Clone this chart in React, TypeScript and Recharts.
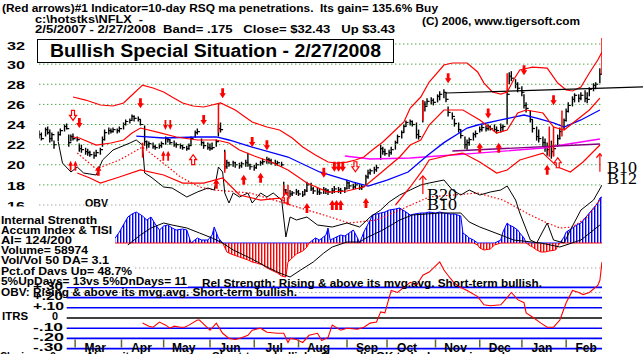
import React from 'react';
import { ComposedChart, XAxis, YAxis, Line, Bar, Area, Scatter, ReferenceLine } from 'recharts';

const W = 643;
const H = 354;
const SANS = '"Liberation Sans", Arial, sans-serif';
const SERIF = '"Liberation Serif", "Times New Roman", serif';

// ---------- data (trading-day index d: 0 = 2/5/2007 ... 267 = 2/27/2008) ----------
const monthNames = ['Mar', 'Apr', 'May', 'Jun', 'Jul', 'Aug', 'Sep', 'Oct', 'Nov', 'Dec', 'Jan', 'Feb'];
const monthStarts = [17, 39, 59, 81, 102, 123, 146, 165, 188, 209, 229, 250];
const priceTicks = [32, 30, 28, 26, 24, 22, 20, 18, 16];
const itrsLevels = [0.3, 0.2, 0.1, -0.1, -0.2, -0.3];
const LAST_DAY = 267;

// [day, high, low, close]
const priceBars: number[][] = [
  [0,23.4,22.6,23.0],[1,23.2,22.4,22.6],[3,23.7,22.8,23.5],[4,23.8,23.0,23.2],[5,23.5,22.2,22.6],
  [6,23.2,22.3,23.0],[7,22.4,21.6,22.0],[9,23.3,22.3,23.0],[10,23.6,22.9,23.4],[12,24.0,23.3,23.8],
  [13,24.1,23.5,23.6],[14,23.0,21.8,22.2],[15,23.0,22.3,22.8],[16,23.1,22.4,22.6],[18,22.8,22.3,22.5],
  [19,22.1,21.3,21.6],[20,22.0,21.2,21.5],[22,21.7,21.0,21.3],[23,21.6,20.9,21.2],[24,21.4,20.8,21.0],
  [26,21.3,20.6,20.9],[27,21.5,20.8,21.2],[29,21.7,21.0,21.5],[30,22.8,21.8,22.5],[31,23.5,22.4,23.2],
  [33,23.7,23.0,23.4],[34,23.6,23.1,23.3],[35,23.7,23.2,23.5],[37,23.6,23.1,23.4],[38,23.8,23.2,23.6],
  [40,24.2,23.5,24.0],[41,24.5,23.9,24.3],[43,24.6,24.1,24.4],[44,25.0,24.4,24.8],[45,24.9,24.3,24.6],
  [47,24.8,24.3,24.5],[48,24.5,23.9,24.0],[50,23.9,21.9,22.3],[51,22.4,21.6,22.0],[52,22.3,21.7,22.1],
  [54,22.2,21.6,21.8],[55,22.0,21.5,21.7],[57,22.1,21.6,21.9],[58,22.3,21.7,22.1],[60,22.8,22.0,22.6],
  [61,22.7,22.2,22.5],[62,22.5,22.0,22.2],[64,22.4,21.8,22.0],[65,22.2,21.7,22.0],[67,22.1,21.6,21.9],
  [68,22.0,21.5,21.7],[70,21.9,21.4,21.6],[71,22.1,21.5,21.9],[72,22.8,21.9,22.6],[74,23.4,22.7,23.2],
  [75,23.6,23.0,23.3],[77,22.6,21.9,22.2],[78,22.3,21.6,21.9],[80,22.2,21.5,21.7],[81,22.1,21.4,21.6],
  [82,22.2,21.5,21.7],[84,22.5,21.8,22.3],[85,24.0,22.8,23.6],[86,24.2,23.2,23.5],[88,21.5,19.5,19.8],
  [89,20.5,19.6,20.2],[90,20.3,19.8,20.0],[92,20.4,19.8,20.2],[93,20.3,19.7,20.0],[95,20.2,19.6,19.9],
  [96,20.3,19.7,20.1],[98,20.5,19.8,20.2],[99,21.2,19.8,20.0],[100,20.1,19.5,19.8],[102,20.0,19.4,19.7],
  [103,20.2,19.6,20.0],[105,20.4,19.9,20.2],[106,20.6,20.0,20.3],[108,20.8,20.1,20.5],[109,20.7,20.1,20.4],
  [110,20.6,20.0,20.2],[112,20.5,19.9,20.1],[113,20.4,19.9,20.2],[115,20.3,19.8,20.0],[116,18.3,17.0,17.5],
  [117,17.6,16.9,17.2],[119,17.5,16.8,17.1],[120,17.4,16.9,17.2],[122,17.6,17.0,17.3],[123,17.5,16.9,17.1],
  [125,17.4,16.8,17.0],[126,17.6,17.0,17.4],[127,18.3,17.3,18.0],[129,18.2,17.4,17.6],[130,17.8,17.1,17.4],
  [132,17.7,17.0,17.3],[133,17.6,17.0,17.2],[135,17.8,17.1,17.5],[136,17.7,17.1,17.4],[137,17.6,17.0,17.3],
  [139,17.7,17.1,17.4],[140,17.9,17.2,17.6],[142,17.8,17.2,17.5],[143,17.7,17.1,17.4],[145,17.8,17.2,17.6],
  [146,18.5,17.6,18.2],[147,18.3,17.6,17.9],[149,18.1,17.5,17.8],[150,18.2,17.6,18.0],[152,18.1,17.5,17.7],
  [153,18.0,17.5,17.8],[155,19.0,17.9,18.8],[156,19.5,18.6,19.2],[157,19.6,19.0,19.4],[159,19.8,19.1,19.5],
  [160,20.0,19.3,19.7],[162,22.0,20.5,21.6],[163,21.8,21.0,21.3],[164,21.6,20.9,21.1],[166,21.5,20.8,21.2],
  [167,21.8,21.0,21.5],[169,22.4,21.5,22.2],[170,23.0,22.1,22.8],[172,23.4,22.6,23.2],[173,24.0,23.2,23.8],
  [174,24.4,23.8,24.2],[176,24.5,23.9,24.3],[177,24.4,23.8,24.0],[179,24.2,22.6,23.0],[180,23.5,22.5,22.8],
  [182,26.4,24.2,26.0],[183,26.3,25.3,25.8],[184,26.6,25.9,26.3],[186,26.7,26.0,26.4],[187,26.6,25.9,26.2],
  [189,27.0,26.2,26.8],[190,27.3,26.4,27.0],[192,27.5,26.6,27.2],[193,27.2,26.2,26.5],[194,25.8,24.8,25.2],
  [196,25.2,24.5,24.8],[197,24.6,23.8,24.1],[199,24.2,23.2,23.5],[200,23.5,22.6,22.9],[202,22.8,21.6,22.0],
  [203,22.5,21.5,22.2],[204,22.7,21.9,22.5],[206,23.2,22.4,23.0],[207,23.4,22.7,23.1],[209,23.8,23.2,23.5],
  [210,24.0,23.3,23.7],[212,23.9,23.3,23.6],[213,24.0,23.4,23.8],[214,23.9,23.4,23.6],[216,24.0,23.3,23.5],
  [217,23.8,23.1,23.4],[219,24.1,23.2,23.7],[220,24.0,23.3,23.8],[222,27.3,24.0,27.0],[223,29.2,28.0,28.8],
  [224,29.3,28.3,28.6],[226,28.5,27.6,28.0],[227,28.2,27.2,27.6],[229,27.8,26.8,27.2],[230,27.0,25.6,25.9],
  [231,26.2,25.2,25.6],[233,25.4,24.2,24.5],[234,24.5,23.2,23.6],[236,23.8,22.4,22.8],[237,23.5,22.2,22.6],
  [239,22.8,21.8,22.2],[240,22.6,21.3,21.8],[241,22.2,20.9,21.5],[243,22.4,20.6,21.3],[244,22.0,20.9,21.6],
  [246,23.0,21.8,22.6],[247,23.7,22.5,23.3],[249,24.6,23.5,24.4],[250,25.6,24.3,25.3],[251,26.2,25.2,25.9],
  [253,26.8,25.8,26.5],[254,27.1,26.2,26.9],[256,27.0,26.2,26.6],[257,27.2,26.4,26.9],[259,27.4,26.2,26.6],
  [260,27.2,26.1,26.5],[261,27.7,26.8,27.5],[263,28.1,27.3,27.9],[264,28.2,27.5,28.0],[266,29.6,28.1,29.0],
  [267,32.6,29.0,32.43],
];

const upperBand: number[][] = [
  [16,26.73],[22,26.43],[29,25.94],[35,25.84],[40,26.14],[44,26.93],[49,27.92],[54,27.63],[59,27.23],
  [63,26.73],[68,26.14],[73,25.84],[78,25.74],[82,25.94],[86,26.14],[93,25.44],[101,24.25],[108,23.75],
  [114,23.45],[120,22.66],[125,21.76],[131,20.97],[137,20.27],[141,20.17],[146,20.27],[150,20.47],
  [154,20.77],[158,21.46],[163,22.26],[168,23.25],[173,24.25],[176,25.64],[181,26.73],[185,28.22],
  [192,29.91],[196,30.11],[203,30.11],[208,29.22],[211,28.12],[215,27.23],[219,27.03],[222,27.23],
  [225,28.42],[228,29.42],[234,29.71],[241,29.61],[246,28.12],[250,27.43],[253,27.33],[257,27.73],
  [261,29.12],[265,30.41],[267,31.2],
];
const middleBand: number[][] = [
  [16,22.76],[19,22.66],[27,21.96],[34,22.16],[40,22.46],[44,23.15],[48,23.65],[56,23.25],[65,22.76],
  [75,22.46],[84,22.46],[90,22.16],[95,21.46],[102,20.87],[110,20.27],[118,19.48],[127,18.18],[137,17.29],
  [146,17.39],[154,17.79],[162,19.18],[171,20.77],[176,21.96],[181,22.46],[185,23.95],[192,25.44],
  [201,25.44],[209,24.45],[217,23.15],[222,23.45],[227,25.14],[231,25.44],[239,25.14],[244,23.75],
  [249,23.45],[255,24.45],[261,25.44],[266,26.63],
];
const lowerBand: (number | null)[][] = [
  [18,19.18],[24,18.68],[29,18.18],[38,18.78],[48,19.48],[59,18.98],[68,18.18],[78,18.18],[87,18.68],
  [95,16.99],[105,16.49],[114,16.69],[119,16.0],[140,null],[169,16.0],[176,17.79],[182,19.48],[185,20.47],
  [195,20.97],[201,21.16],[209,20.27],[217,19.18],[222,19.48],[228,20.47],[239,21.16],[246,19.77],
  [252,19.28],[258,20.27],[266,21.96],
];
const ma50: number[][] = [
  [46,22.85],[59,22.66],[75,22.76],[84,22.76],[90,22.46],[101,21.76],[118,20.77],[133,19.28],[149,18.28],
  [156,17.88],[165,18.48],[175,19.28],[184,20.9],[192,22.2],[203,23.65],[208,23.95],[219,24.45],
  [230,24.94],[236,24.64],[244,24.15],[249,23.75],[257,24.45],[266,25.44],
];
const ma200: number[][] = [[145,20.87],[157,20.57],[176,20.67],[196,20.97],[208,21.16],[239,21.66],[266,22.56]];
const supportLine: number[][] = [[196,21.36],[266,22.06]];
const resistanceLine: number[][] = [[193,27.13],[286.5,27.73]];

// [day, top, bottom] red signal bars
const signalBars: number[][] = [
  [49,22.2,20.7],[85,26.1,23.2],[88,21.3,19.2],[116,18.0,16.8],[118,18.0,16.0],[182,26.4,24.4],
  [222,29.1,27.1],[242,23.8,20.8],[244,23.8,20.8],[248,25.4,22.8],
];
// [day, price, kind]
const sellArrows: any[][] = [
  [16,24.9,'hollow'],[19,24.15,'solid'],[48,26.1,'solid'],[61,23.95,'double'],[78,24.45,'solid'],
  [87,27.1,'solid'],[101,22.25,'solid'],[108,21.95,'solid'],[135,19.2,'solid'],[140,19.8,'solid'],
  [142,19.8,'solid'],[144,19.8,'solid'],[150,19.8,'hollow'],[194,28.6,'solid'],[213,25.1,'solid'],
  [230,29.4,'solid'],[244,26.4,'solid'],
];
const buyArrows: any[][] = [
  [16,19.9,'double'],[28,19.4,'solid'],[60,20.9,'double'],[73,20.5,'hollow'],[84,18.1,'solid'],
  [97,18.5,'solid'],[105,18.7,'solid'],[117,16.7,'hollow'],[127,15.7,'solid'],[139,16.0,'solid'],
  [141,16.0,'solid'],[143,16.0,'solid'],[155,16.2,'solid'],[209,21.7,'solid'],[218,21.7,'solid'],
  [241,19.5,'solid'],[246,20.2,'hollow'],[182,18.0,'thin'],[266,20.2,'thin'],
];

// lower panel indicators (panel units)
const obv: number[][] = [
  [9,101],[11,80],[15,71],[18,76],[21,70],[27,68],[30,83],[35,93],[43,100],[46,103],[49,98],[50,70],
  [53,66],[59,56],[63,55],[70,46],[75,51],[80,55],[83,53],[85,76],[87,71],[88,50],[90,40],[92,50],
  [95,46],[99,50],[101,40],[105,50],[108,46],[111,50],[115,43],[117,6],[119,26],[122,23],[127,26],
  [132,18],[139,16],[146,20],[152,16],[157,26],[162,33],[166,41],[171,48],[176,53],[181,58],[185,60],
  [192,63],[196,53],[200,48],[204,53],[209,48],[214,51],[219,53],[222,57],[226,43],[228,30],[233,3],
  [236,0],[241,20],[244,3],[249,0],[252,13],[257,33],[263,43],[267,58],
];
const obvMa: number[][] = [
  [18,90],[27,74],[38,83],[49,96],[57,83],[67,66],[76,56],[83,53],[100,50],[116,40],[135,28],[147,20],
  [160,23],[171,33],[185,46],[208,50],[220,43],[233,28],[241,20],[247,15],[253,16],[260,26],[266,43],
];
const tisi: number[][] = [
  [42,-2],[48,8],[53,15],[59,20],[63,18],[70,15],[76,10],[82,5],[87,0],[92,-7],[100,-15],[108,-24],
  [114,-30],[119,-34],[124,-27],[130,-19],[135,-10],[139,-4],[146,1],[152,1],[155,5],[163,13],[171,23],
  [177,28],[190,30],[200,30],[204,21],[209,16],[219,8],[225,3],[238,0],[247,-4],[257,3],[266,18],
];
const accumIndex: number[][] = [
  [36,5],[38,11],[42,26],[44,29],[46,31],[49,27],[51,23],[53,26],[55,19],[57,13],[59,17],[61,18],
  [63,15],[65,13],[68,14],[70,13],[72,0],[75,5],[77,3],[80,3],[82,8],[83,16],[85,5],[87,0],[89,-9],
  [91,-11],[95,-14],[99,-17],[101,-19],[103,-20],[106,-22],[108,-25],[110,-27],[113,-30],[115,-33],
  [117,-34],[118,-19],[120,-15],[122,-11],[125,-8],[127,-4],[128,0],[131,5],[133,3],[136,8],[137,15],
  [138,3],[140,5],[143,8],[145,7],[147,10],[149,13],[151,5],[152,0],[154,11],[156,19],[157,23],[158,28],
  [160,29],[162,30],[164,31],[166,33],[169,34],[171,35],[174,31],[176,28],[178,29],[181,30],[183,30],
  [185,31],[188,30],[190,31],[192,30],[195,29],[197,29],[200,27],[201,10],[203,7],[204,5],[206,3],
  [208,-2],[209,-5],[211,-7],[214,-6],[216,-2],[219,3],[220,11],[222,20],[223,18],[225,16],[227,13],
  [228,10],[230,5],[231,0],[233,-3],[234,-4],[236,-7],[238,-9],[240,-9],[242,-8],[245,-7],[246,-3],
  [247,0],[249,6],[250,11],[253,15],[255,18],[257,20],[259,25],[261,30],[263,35],[265,40],[266,45],[267,46],
];
const itrs: number[][] = [
  [49,-0.05],[52,-0.08],[54,-0.09],[57,-0.04],[60,-0.07],[62,-0.1],[64,-0.08],[67,-0.09],[69,-0.09],
  [71,-0.07],[75,-0.02],[76,-0.02],[79,-0.08],[81,-0.12],[84,-0.05],[87,-0.15],[90,-0.2],[93,-0.21],
  [95,-0.2],[99,-0.17],[101,-0.12],[105,-0.1],[108,-0.14],[113,-0.15],[116,-0.15],[118,-0.24],[119,-0.2],
  [122,-0.21],[125,-0.24],[128,-0.17],[132,-0.15],[134,-0.22],[137,-0.19],[139,-0.07],[143,-0.12],
  [146,-0.1],[151,-0.11],[154,-0.09],[157,-0.05],[160,-0.04],[162,0.06],[164,0.05],[166,0.2],[167,0.27],
  [170,0.25],[173,0.3],[176,0.35],[179,0.32],[182,0.42],[185,0.45],[190,0.55],[192,0.47],[195,0.39],
  [197,0.34],[200,0.3],[203,0.27],[208,0.21],[211,0.13],[214,0.12],[219,0.13],[222,0.2],[224,0.25],
  [227,0.18],[230,0.15],[231,0.05],[234,0.01],[238,-0.05],[241,-0.09],[244,-0.09],[247,-0.02],[250,0.15],
  [253,0.27],[256,0.25],[258,0.23],[261,0.25],[265,0.32],[266,0.37],[267,0.55],
];

// ---------- derived tables ----------
const bars = priceBars.map(([d, h, l, c]) => ({ d, h, l, c }));
const pts = (a: any[][]) => a.map(([d, p]) => ({ d, p }));
const vpts = (a: any[][]) => a.map(([d, v]) => ({ d, v }));
const arrowPts = [
  ...sellArrows.map(([d, p, kind]) => ({ d, p, kind, dir: 'down' })),
  ...buyArrows.map(([d, p, kind]) => ({ d, p, kind, dir: 'up' })),
];
const monthLabelPts = monthNames.map((name, i) => ({ d: monthStarts[i] + 9.5, v: -0.3, name }));
const monthTickPts = monthStarts.map((d) => ({ d, v: -0.25 }));

// axis domain so that value vA sits at pixel yA and vB at pixel yB (plot spans 0..H)
const axisDomain = (vA: number, yA: number, vB: number, yB: number) => {
  const s = (vA - vB) / (yB - yA);
  return [vB - (H - yB) * s, vA + yA * s];
};
const priceDomain = axisDomain(32, 44, 16, 205);
const oscDomain = axisDomain(0, 243, -100, 343);
const itrsDomain = axisDomain(0.3, 287.4, -0.3, 348.6);

// ---------- shapes ----------
const OhlcShape = (props: any) => {
  const { x, y, width, height, payload } = props;
  if (x == null || y == null || !payload) return null;
  const top = Math.min(y, y + height);
  const hh = Math.abs(height);
  const cx = x + width / 2;
  const cy = top + (hh * (payload.h - payload.c)) / (payload.h - payload.l);
  const col = payload.d === LAST_DAY ? '#ff0000' : '#000000';
  return (
    <g>
      <line x1={cx} x2={cx} y1={top} y2={top + hh} stroke={col} strokeWidth={1.4} />
      <line x1={cx} x2={cx + 2.6} y1={cy} y2={cy} stroke={col} strokeWidth={1.2} />
    </g>
  );
};

const arrowPoly = (cx: number, cy: number, up: boolean, s: number, h: number) => {
  const k = up ? -1 : 1;
  const tail = cy - 5 * k;
  const tip = cy + 5 * k;
  return `${cx - s},${tail} ${cx + s},${tail} ${cx + s},${cy} ${cx + h},${cy} ${cx},${tip} ${cx - h},${cy} ${cx - s},${cy}`;
};

const ArrowShape = (props: any) => {
  const { cx, cy, payload } = props;
  if (cx == null || cy == null || !payload) return null;
  const up = payload.dir === 'up';
  if (payload.kind === 'double') {
    return (
      <g>
        <polygon points={arrowPoly(cx - 2.4, cy, up, 0.9, 2.3)} fill="#ff0000" />
        <polygon points={arrowPoly(cx + 2.4, cy, up, 0.9, 2.3)} fill="#ff0000" />
      </g>
    );
  }
  if (payload.kind === 'hollow') {
    return <polygon points={arrowPoly(cx, cy, up, 1.5, 3.5)} fill="#ffffff" stroke="#ff0000" strokeWidth={1.2} />;
  }
  if (payload.kind === 'thin') {
    return (
      <g stroke="#ff0000" strokeWidth={1.2} fill="none">
        <line x1={cx} x2={cx} y1={cy + 9} y2={cy - 9} />
        <polyline points={`${cx - 3.5},${cy - 5} ${cx},${cy - 9} ${cx + 3.5},${cy - 5}`} />
      </g>
    );
  }
  return <polygon points={arrowPoly(cx, cy, up, 1.4, 3.2)} fill="#ff0000" />;
};

const MonthLabelShape = (props: any) => {
  const { cx, payload } = props;
  if (cx == null || !payload) return null;
  return (
    <text x={cx} y={351.5} textAnchor="middle" fontFamily={SANS} fontWeight="bold" fontSize={12} fill="#000">
      {payload.name}
    </text>
  );
};
const MonthTickShape = (props: any) => {
  const { cx } = props;
  if (cx == null) return null;
  return <line x1={cx} x2={cx} y1={339.5} y2={347.5} stroke="#66662e" strokeWidth={1.5} />;
};

const T = ({ x, y, w, size = 11, weight = 'bold', family = SANS, children }: any) => (
  <text
    x={x}
    y={y}
    fontSize={size}
    fontWeight={weight}
    fontFamily={family}
    textLength={w}
    lengthAdjust="spacingAndGlyphs"
    fill="#000"
    style={{ whiteSpace: 'pre' }}
  >
    {children}
  </text>
);

const priceLabelBase = [49.5, 69, 89, 109, 129, 149, 169, 190, 209.5];

export default function App() {
  return (
    <div style={{ position: 'fixed', left: 0, top: 0, width: W, height: H, background: '#fff', overflow: 'hidden' }}>
      <svg width={0} height={0} style={{ position: 'absolute' }}>
        <defs>
          <pattern id="stripeBlue" width={3} height={6} patternUnits="userSpaceOnUse">
            <rect x={0} y={0} width={1.4} height={6} fill="#0000ff" />
          </pattern>
          <pattern id="stripeRed" width={3} height={6} patternUnits="userSpaceOnUse">
            <rect x={0} y={0} width={1.4} height={6} fill="#ff0000" />
          </pattern>
        </defs>
      </svg>
      <div style={{ position: 'absolute', left: 0, top: 0 }}>
        <ComposedChart width={W} height={H} data={bars} margin={{ top: 0, right: 41, bottom: 0, left: 39.3 }}>
          <XAxis xAxisId="x" dataKey="d" type="number" domain={[0, 267]} allowDataOverflow hide />
          <YAxis yAxisId="p" type="number" domain={priceDomain} allowDataOverflow hide />
          <YAxis yAxisId="o" type="number" domain={oscDomain} allowDataOverflow hide />
          <YAxis yAxisId="r" type="number" domain={itrsDomain} allowDataOverflow hide />

          {priceTicks.map((t) => (
            <ReferenceLine
              key={'g' + t}
              xAxisId="x"
              yAxisId="p"
              y={t}
              stroke={t === 16 ? '#808080' : '#008000'}
              strokeDasharray="1 3"
            />
          ))}
          <ReferenceLine xAxisId="x" yAxisId="o" y={-25} stroke="#808080" strokeDasharray="1 3" />
          <ReferenceLine xAxisId="x" yAxisId="r" y={0.25} stroke="#808080" strokeDasharray="1 3" />
          {itrsLevels.map((v) => (
            <ReferenceLine
              key={'i' + v}
              xAxisId="x"
              yAxisId="r"
              segment={[{ x: 13, y: v }, { x: 267, y: v }]}
              stroke="#0000ff"
              strokeWidth={1.6}
            />
          ))}
          <ReferenceLine xAxisId="x" yAxisId="r" segment={[{ x: 13, y: 0 }, { x: 267, y: 0 }]} stroke="#000" strokeWidth={1.6} />

          <Area
            xAxisId="x"
            yAxisId="o"
            data={vpts(accumIndex)}
            dataKey={(e: any) => Math.max(e.v, 0)}
            baseValue={0}
            type="linear"
            stroke="#0000ff"
            strokeWidth={1}
            fill="url(#stripeBlue)"
            fillOpacity={1}
            isAnimationActive={false}
            dot={false}
            activeDot={false}
          />
          <Area
            xAxisId="x"
            yAxisId="o"
            data={vpts(accumIndex)}
            dataKey={(e: any) => Math.min(e.v, 0)}
            baseValue={0}
            type="linear"
            stroke="#ff0000"
            strokeWidth={1}
            fill="url(#stripeRed)"
            fillOpacity={1}
            isAnimationActive={false}
            dot={false}
            activeDot={false}
          />

          <Line xAxisId="x" yAxisId="o" data={vpts(tisi)} dataKey="v" stroke="#000" strokeWidth={1} dot={false} isAnimationActive={false} />
          <Line xAxisId="x" yAxisId="o" data={vpts(obvMa)} dataKey="v" stroke="#ff0000" strokeWidth={1.2} strokeDasharray="1.5 2" dot={false} isAnimationActive={false} />
          <Line xAxisId="x" yAxisId="o" data={vpts(obv)} dataKey="v" stroke="#000" strokeWidth={1} dot={false} isAnimationActive={false} />

          <Line xAxisId="x" yAxisId="r" data={vpts(itrs)} dataKey="v" stroke="#ff0000" strokeWidth={1.1} dot={false} isAnimationActive={false} />

          <Line xAxisId="x" yAxisId="p" data={pts(ma200)} dataKey="p" stroke="#ff00ff" strokeWidth={1.4} dot={false} isAnimationActive={false} />
          <Line xAxisId="x" yAxisId="p" data={pts(supportLine)} dataKey="p" stroke="#800080" strokeWidth={1.4} dot={false} isAnimationActive={false} />
          <Line xAxisId="x" yAxisId="p" data={pts(ma50)} dataKey="p" stroke="#0000ff" strokeWidth={1.3} dot={false} isAnimationActive={false} />
          <Line xAxisId="x" yAxisId="p" data={pts(upperBand)} dataKey="p" stroke="#ff0000" strokeWidth={1.2} dot={false} isAnimationActive={false} />
          <Line xAxisId="x" yAxisId="p" data={pts(middleBand)} dataKey="p" stroke="#ff0000" strokeWidth={1.2} dot={false} isAnimationActive={false} />
          <Line xAxisId="x" yAxisId="p" data={pts(lowerBand)} dataKey="p" stroke="#ff0000" strokeWidth={1.2} dot={false} connectNulls={false} isAnimationActive={false} />
          <ReferenceLine
            xAxisId="x"
            yAxisId="p"
            ifOverflow="visible"
            segment={[{ x: resistanceLine[0][0], y: resistanceLine[0][1] }, { x: resistanceLine[1][0], y: resistanceLine[1][1] }]}
            stroke="#000"
            strokeWidth={1.2}
          />
          {signalBars.map(([d, t, b]) => (
            <ReferenceLine
              key={'s' + d}
              xAxisId="x"
              yAxisId="p"
              segment={[{ x: d, y: t }, { x: d, y: b }]}
              stroke="#ff0000"
              strokeWidth={1.5}
            />
          ))}

          <Bar xAxisId="x" yAxisId="p" dataKey={(e: any) => [e.l, e.h]} barSize={2} shape={OhlcShape} isAnimationActive={false} />
          <Scatter xAxisId="x" yAxisId="p" data={arrowPts} dataKey="p" shape={ArrowShape} isAnimationActive={false} />
          <Scatter xAxisId="x" yAxisId="r" data={monthTickPts} dataKey="v" shape={MonthTickShape} isAnimationActive={false} />
          <Scatter xAxisId="x" yAxisId="r" data={monthLabelPts} dataKey="v" shape={MonthLabelShape} isAnimationActive={false} />
        </ComposedChart>
      </div>

      <svg width={W} height={H} style={{ position: 'absolute', left: 0, top: 0, pointerEvents: 'none' }}>
        <T x={2} y={11.5} w={436} size={11.5}>(Red arrows)#1 Indicator=10-day RSQ ma penetrations.  Its gain= 135.6% Buy</T>
        <T x={35} y={22.5} w={108}>c:\hotstks\NFLX  -</T>
        <T x={422} y={24.5} w={158}>(C) 2006, www.tigersoft.com</T>
        <T x={35} y={33} w={360}>2/5/2007 - 2/27/2008  Band= .175   Close= $32.43   Up $3.43</T>

        <rect x={37.5} y={39.5} width={356} height={23} fill="#fff" stroke="#000" strokeWidth={1} />
        <T x={50} y={56.5} w={331} size={18}>Bullish Special Situation - 2/27/2008</T>

        {priceTicks.map((t, i) => (
          <T key={'pl' + t} x={7} y={priceLabelBase[i]} w={18} size={11.5}>{String(t)}</T>
        ))}
        <T x={85} y={207} w={23} size={11.5}>OBV</T>

        <rect x={0} y={206.5} width={98} height={20.5} fill="#fff" />
        <T x={1} y={224} w={96}>Internal Strength</T>
        <rect x={0} y={224} width={113} height={13} fill="#fff" />
        <T x={1} y={234} w={111}>Accum Index &amp; TISI</T>
        <rect x={0} y={234} width={73} height={13} fill="#fff" />
        <T x={1} y={244} w={71}>AI= 124/200</T>
        <rect x={0} y={244} width={89} height={13} fill="#fff" />
        <T x={1} y={254} w={87}>Volume= 58974</T>
        <rect x={0} y={254} width={110} height={13} fill="#fff" />
        <T x={1} y={264} w={108}>Vol/Vol 50 DA= 3.1</T>
        <rect x={0} y={264.5} width={133} height={13.5} fill="#fff" />
        <T x={1} y={275} w={131}>Pct.of Days Up= 48.7%</T>
        <rect x={0} y={275} width={188} height={12} fill="#fff" />
        <T x={1} y={285} w={186}>5%UpDays= 13vs 5%DnDays= 11</T>
        <T x={202} y={286.5} w={340}>Rel Strength: Rising &amp; above its mvg.avg. Short-term bullish.</T>

        <T x={33} y={289.5} w={30}>+.30</T>
        <T x={33} y={299.5} w={30}>+.20</T>
        <T x={1} y={296} w={296}>OBV: Rising &amp; above its mvg.avg. Short-term bullish.</T>
        <T x={33} y={310} w={31}>+.10</T>
        <T x={2} y={320} w={26}>ITRS</T>
        <T x={52} y={320} w={6}>0</T>
        <T x={33} y={330.5} w={30}>-.10</T>
        <T x={33} y={340.5} w={31}>-.20</T>
        <T x={33} y={350.5} w={30}>-.30</T>

        <T x={0} y={359.5} w={36}>Closing</T>
        <T x={50} y={359.5} w={6}>0</T>
        <T x={86} y={359.5} w={100}>Above its mvg.avg.</T>
        <T x={212} y={359.5} w={300}>Short-term bullish.  Generally OK to be long or in cash.</T>

        <T x={427} y={199.5} w={30} size={17} weight="normal" family={SERIF}>B20</T>
        <T x={427} y={210} w={30} size={17} weight="normal" family={SERIF}>B10</T>
        <T x={607} y={173} w={30} size={17} weight="normal" family={SERIF}>B10</T>
        <T x={607} y={183.5} w={30} size={17} weight="normal" family={SERIF}>B12</T>
      </svg>
    </div>
  );
}
